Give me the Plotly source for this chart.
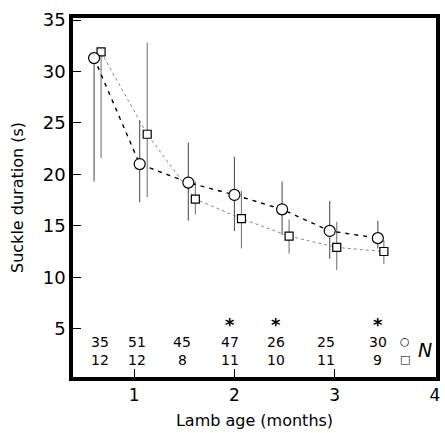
import plotly.graph_objects as go

# Data
age_circle = [0.60, 1.055, 1.54, 2.00, 2.475, 2.95, 3.43]
dur_circle = [31.3, 21.0, 19.2, 18.0, 16.6, 14.5, 13.8]
up_circle = [0.0, 4.2, 3.9, 3.7, 2.7, 2.9, 1.7]
dn_circle = [12.0, 3.7, 3.7, 3.5, 2.5, 2.7, 1.0]

age_square = [0.67, 1.13, 1.61, 2.07, 2.545, 3.02, 3.49]
dur_square = [31.9, 23.9, 17.6, 15.7, 14.0, 12.9, 12.5]
up_square = [0.0, 8.9, 1.7, 2.7, 1.6, 2.5, 1.1]
dn_square = [10.3, 6.1, 1.5, 2.9, 1.7, 2.2, 1.2]

n_label_x = [0.66, 1.03, 1.48, 1.96, 2.41, 2.91, 3.43]
n_circle = ["35", "51", "45", "47", "26", "25", "30"]
n_square = ["12", "12", "8", "11", "10", "11", "9"]
significant = [False, False, False, True, True, False, True]

x_ticks = [1, 2, 3, 4]
y_ticks = [5, 10, 15, 20, 25, 30, 35]

FONT = "DejaVu Sans"

fig = go.Figure()

fig.add_trace(go.Scatter(
    x=age_square, y=dur_square, mode="lines+markers",
    line=dict(color="#888888", width=1, dash="dot"),
    marker=dict(symbol="square", size=8, color="white",
                line=dict(color="black", width=1.2)),
    error_y=dict(type="data", symmetric=False, array=up_square,
                 arrayminus=dn_square, color="#777777", thickness=1.1, width=0),
    showlegend=False,
))
fig.add_trace(go.Scatter(
    x=age_circle, y=dur_circle, mode="lines+markers",
    line=dict(color="black", width=1.4, dash="4px,5px"),
    marker=dict(symbol="circle", size=11, color="white",
                line=dict(color="black", width=1.2)),
    error_y=dict(type="data", symmetric=False, array=up_circle,
                 arrayminus=dn_circle, color="#555555", thickness=1.1, width=0),
    showlegend=False,
))

ann = []
for xv, a, b, s in zip(n_label_x, n_circle, n_square, significant):
    ann.append(dict(x=xv, y=3.7, text=a, showarrow=False,
                    font=dict(family=FONT, size=14, color="black")))
    ann.append(dict(x=xv, y=1.95, text=b, showarrow=False,
                    font=dict(family=FONT, size=14, color="black")))
    if s:
        ann.append(dict(x=xv, y=5.4, text="<b>*</b>", showarrow=False,
                        font=dict(family=FONT, size=18, color="black")))
ann.append(dict(x=3.7, y=3.8, text="○", showarrow=False,
                font=dict(family=FONT, size=11, color="black")))
ann.append(dict(x=3.7, y=2.0, text="□", showarrow=False,
                font=dict(family=FONT, size=11, color="black")))
ann.append(dict(x=3.9, y=2.9, text="<i>N</i>", showarrow=False,
                font=dict(family=FONT, size=19, color="black")))

fig.update_layout(
    width=445, height=433,
    margin=dict(l=73, r=5, t=18, b=54),
    paper_bgcolor="white", plot_bgcolor="white",
    font=dict(family=FONT, size=17, color="black"),
    annotations=ann,
    xaxis=dict(range=[0.39, 4.01], tickvals=x_ticks, ticktext=[str(v) for v in x_ticks],
               ticks="inside", ticklen=8, tickwidth=1.3, tickcolor="black",
               showline=True, linewidth=3.5, linecolor="black", mirror=True,
               showgrid=False, zeroline=False,
               tickfont=dict(size=17),
               title=dict(text="Lamb age (months)", font=dict(size=16), standoff=12)),
    yaxis=dict(range=[0.3, 35.2], tickvals=y_ticks, ticktext=[str(v) for v in y_ticks],
               ticks="inside", ticklen=8, tickwidth=1.3, tickcolor="black",
               showline=True, linewidth=3.5, linecolor="black", mirror=True,
               showgrid=False, zeroline=False,
               tickfont=dict(size=18),
               title=dict(text="Suckle duration (s)", font=dict(size=16), standoff=16)),
)

fig.write_html("out.html")
